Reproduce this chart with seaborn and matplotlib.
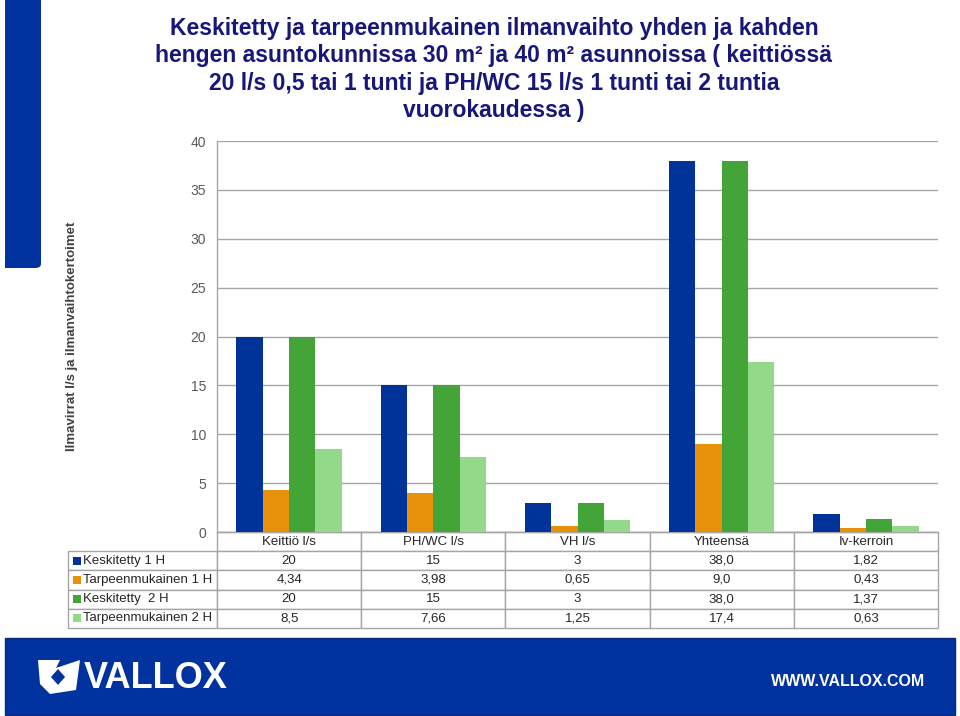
import matplotlib
matplotlib.use("Agg")
import matplotlib.pyplot as plt
from matplotlib.patches import Rectangle, Polygon, FancyBboxPatch
import numpy as np
import pandas as pd
import seaborn as sns

# Chart data
categories = ['Keittiö l/s', 'PH/WC l/s', 'VH l/s', 'Yhteensä', 'Iv-kerroin']
series = ['Keskitetty 1 H', 'Tarpeenmukainen 1 H', 'Keskitetty  2 H', 'Tarpeenmukainen 2 H']
keskitetty_1h = [20, 15, 3, 38.0, 1.82]
tarpeen_1h = [4.34, 3.98, 0.65, 9.0, 0.43]
keskitetty_2h = [20, 15, 3, 38.0, 1.37]
tarpeen_2h = [8.5, 7.66, 1.25, 17.4, 0.63]
yticks = [0, 5, 10, 15, 20, 25, 30, 35, 40]
colors = ['#003399', '#E8920C', '#43A437', '#93D98A']

title = ('Keskitetty ja tarpeenmukainen ilmanvaihto yhden ja kahden\n'
         'hengen asuntokunnissa 30 m² ja 40 m² asunnoissa ( keittiössä\n'
         '20 l/s 0,5 tai 1 tunti ja PH/WC 15 l/s 1 tunti tai 2 tuntia\n'
         'vuorokaudessa )')
ylabel = 'Ilmavirrat l/s ja ilmanvaihtokertoimet'

values = [keskitetty_1h, tarpeen_1h, keskitetty_2h, tarpeen_2h]
rows = []
for name, vals in zip(series, values):
    for cat, v in zip(categories, vals):
        rows.append({'kategoria': cat, 'sarja': name, 'arvo': v})
df = pd.DataFrame(rows)

sns.set_style('white')
plt.rcParams['font.family'] = ['Liberation Sans', 'DejaVu Sans']

fig = plt.figure(figsize=(9.6, 7.16), dpi=100)
W, H = 960, 716
ax = fig.add_axes([217 / W, 1 - 532 / H, 721 / W, 391 / H])

sns.barplot(data=df, x='kategoria', y='arvo', hue='sarja', order=categories,
            hue_order=series, palette=colors, width=0.73, saturation=1,
            legend=False, ax=ax, zorder=3)
for p in ax.patches:
    p.set_edgecolor('none')

ax.set_ylim(0, 40)
ax.set_xlim(-0.5, len(categories) - 0.5)
ax.set_yticks(yticks)
ax.set_xticks([])
ax.set_xlabel('')
ax.set_ylabel('')
ax.tick_params(axis='y', length=0, pad=8, labelsize=10, labelcolor='#595959')
ax.yaxis.grid(True, color='#a6a6a6', linewidth=1)
ax.set_axisbelow(True)
for s in ['top', 'right']:
    ax.spines[s].set_visible(False)
for s in ['left', 'bottom']:
    ax.spines[s].set_color('#a6a6a6')
    ax.spines[s].set_linewidth(1)

# Data table under the chart
def fmt(cat, v):
    s = f'{v:.1f}' if cat == 'Yhteensä' else f'{v:g}'
    return s.replace('.', ',')

cell_text = [[name] + [fmt(c, v) for c, v in zip(categories, vals)]
             for name, vals in zip(series, values)]
tb_h = 96 / 391
tb_x0 = (68 - 217) / 721
tbl = ax.table(cellText=cell_text, colLabels=[''] + categories, cellLoc='center',
               colWidths=[149] + [144.2] * 5,
               bbox=[tb_x0, -tb_h, 1 - tb_x0, tb_h])
tbl.auto_set_font_size(False)
tbl.set_fontsize(9.5)
for (r, c), cell in tbl.get_celld().items():
    cell.set_edgecolor('#a6a6a6')
    cell.set_linewidth(1)
    cell.get_text().set_color('#262626')
    if c == 0:
        cell._loc = 'left'
        cell.get_text().set_ha('left')
    if r == 0 and c == 0:
        cell.visible_edges = ''
tbl.set_zorder(1)

# legend keys in the table row labels
for i, col in enumerate(colors):
    yc = -tb_h * (i + 1.5) / 5
    ax.add_patch(Rectangle(((73 - 217) / 721, yc - 4 / 391), 8 / 721, 8 / 391,
                           transform=ax.transAxes, clip_on=False,
                           facecolor=col, edgecolor='none'))

# Title and axis label
fig.text(494 / W, 1 - 17 / H, title, ha='center', va='top', fontsize=16.5,
         fontweight='bold', color='#17177A', linespacing=1.24)
fig.text(72 / W, 1 - 336 / H, ylabel, rotation=90, ha='center', va='center',
         fontsize=9.5, fontweight='bold', color='#404040')

# decorative blue strip and footer banner
brand = '#0033A0'
fig.add_artist(FancyBboxPatch((5 / W, 1 - 268 / H), 36 / W, 290 / H,
                              boxstyle='round,pad=0,rounding_size=0.006',
                              transform=fig.transFigure, facecolor=brand,
                              edgecolor='none'))
fig.add_artist(Rectangle((5 / W, 1 - 268 / H), 10 / W, 20 / H,
                         transform=fig.transFigure, facecolor=brand, edgecolor='none'))
fig.add_artist(Rectangle((5 / W, 1 - 715 / H), 950 / W, 77 / H,
                         transform=fig.transFigure, facecolor=brand, edgecolor='#0a2a78'))
# simple logo mark
logo = [(38, 660), (60, 660), (56, 668), (80, 660), (76, 690), (50, 694), (40, 684)]
fig.add_artist(Polygon([(x / W, 1 - y / H) for x, y in logo], closed=True,
                       transform=fig.transFigure, facecolor='white', edgecolor='none'))
diamond = [(58, 668), (66, 677), (58, 686), (50, 677)]
fig.add_artist(Polygon([(x / W, 1 - y / H) for x, y in diamond], closed=True,
                       transform=fig.transFigure, facecolor=brand, edgecolor='white',
                       linewidth=1))
fig.text(84 / W, 1 - 678 / H, 'VALLOX', ha='left', va='center', fontsize=26,
         fontweight='bold', color='white')
fig.text(925 / W, 1 - 681 / H, 'WWW.VALLOX.COM', ha='right', va='center',
         fontsize=11.5, fontweight='bold', color='white')

fig.savefig('out.png', dpi=100)
